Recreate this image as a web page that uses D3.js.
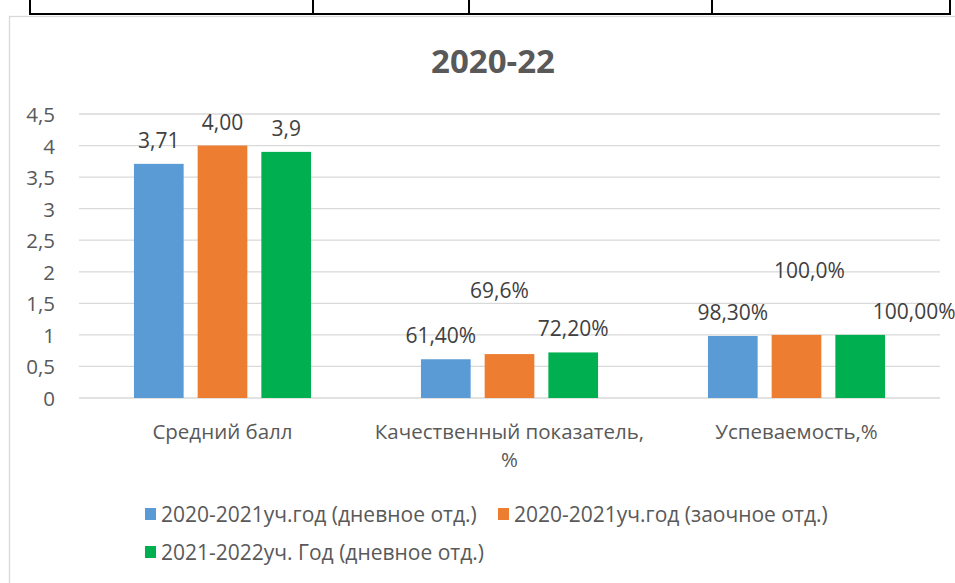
<!DOCTYPE html>
<html lang="ru">
<head>
  <meta charset="UTF-8">
  <title>2020-22</title>
  <script src="https://d3js.org/d3.v7.min.js"></script>
  <style>
    body { margin: 0; background: #fff; }
    text { font-family: "Open Sans", "Noto Sans", sans-serif; }
    .tick-label { font-size: 20.5px; fill: #595959; }
    .value-label { font-size: 21px; fill: #404040; }
    .legend-label { font-size: 21px; fill: #595959; }
    .grid line { stroke: #d9d9d9; stroke-width: 1.3px; }
  </style>
</head>
<body>
  <div id="chart"></div>
  <script>
    // Data
    const categories = ["Средний балл", "Качественный показатель,\n%", "Успеваемость,%"];
    const seriesNames = [
      "2020-2021уч.год (дневное отд.)",
      "2020-2021уч.год (заочное отд.)",
      "2021-2022уч. Год (дневное отд.)"
    ];
    const day2021 = [3.71, 0.614, 0.983];
    const extramural2021 = [4.00, 0.696, 1.0];
    const day2022 = [3.9, 0.722, 1.0];
    const labels2021day = ["3,71", "61,40%", "98,30%"];
    const labels2021ext = ["4,00", "69,6%", "100,0%"];
    const labels2022day = ["3,9", "72,20%", "100,00%"];
    const yTicks = [0, 0.5, 1, 1.5, 2, 2.5, 3, 3.5, 4, 4.5];
    const colors = ["#5b9bd5", "#ed7d31", "#00b050"];

    // hand-moved labels (dx, dy) like in the original document
    const labelNudge = [
      [[0, 0], [-5, 0], [0, 0]],
      [[0, 0], [-10, -40], [13, -41]],
      [[0, 0], [0, 0], [54, 0]]
    ];

    const series = [
      { name: seriesNames[0], values: day2021, labels: labels2021day },
      { name: seriesNames[1], values: extramural2021, labels: labels2021ext },
      { name: seriesNames[2], values: day2022, labels: labels2022day }
    ];

    const W = 955, H = 583;
    const plot = { left: 79, right: 940, top: 114, bottom: 398 };

    const svg = d3.select("#chart")
      .append("svg")
      .attr("width", W)
      .attr("height", H);

    // table row above the chart
    const tableX = [30, 313, 469, 712, 950];
    svg.append("g").selectAll("line")
      .data(tableX)
      .join("line")
      .attr("x1", d => d).attr("x2", d => d)
      .attr("y1", 0).attr("y2", 14)
      .attr("stroke", "#000").attr("stroke-width", 2);
    svg.append("line")
      .attr("x1", tableX[0] - 1).attr("x2", tableX[tableX.length - 1] + 1)
      .attr("y1", 14).attr("y2", 14)
      .attr("stroke", "#000").attr("stroke-width", 2);

    // chart frame
    svg.append("rect")
      .attr("x", 9.5).attr("y", 16.5)
      .attr("width", 960).attr("height", 600)
      .attr("fill", "#fff")
      .attr("stroke", "#d9d9d9").attr("stroke-width", 1.3);

    // title
    svg.append("text")
      .attr("x", 493).attr("y", 60)
      .attr("text-anchor", "middle")
      .attr("dominant-baseline", "central")
      .style("font-size", "33px")
      .style("font-weight", "bold")
      .style("fill", "#595959")
      .text("2020-22");

    const y = d3.scaleLinear()
      .domain([0, 4.5])
      .range([plot.bottom, plot.top]);

    const x0 = d3.scaleBand()
      .domain(categories)
      .range([plot.left, plot.right])
      .paddingInner(0.383)
      .paddingOuter(0.1915);

    const x1 = d3.scaleBand()
      .domain(d3.range(series.length))
      .range([0, x0.bandwidth()])
      .paddingInner(0.22)
      .paddingOuter(0);

    // gridlines
    svg.append("g")
      .attr("class", "grid")
      .selectAll("line")
      .data(yTicks)
      .join("line")
      .attr("x1", plot.left).attr("x2", plot.right)
      .attr("y1", d => y(d)).attr("y2", d => y(d));

    // y tick labels
    const fmt = d => String(d).replace(".", ",");
    svg.append("g")
      .selectAll("text")
      .data(yTicks)
      .join("text")
      .attr("class", "tick-label")
      .attr("x", 55)
      .attr("y", d => y(d))
      .attr("text-anchor", "end")
      .attr("dominant-baseline", "central")
      .text(fmt);

    // bars
    const groups = svg.append("g")
      .selectAll("g")
      .data(series)
      .join("g")
      .attr("fill", (d, i) => colors[i]);

    groups.each(function(s, si) {
      const g = d3.select(this);
      g.selectAll("rect")
        .data(s.values)
        .join("rect")
        .attr("x", (v, ci) => x0(categories[ci]) + x1(si))
        .attr("y", v => y(v))
        .attr("width", x1.bandwidth())
        .attr("height", v => y(0) - y(v));

      g.selectAll("text")
        .data(s.values)
        .join("text")
        .attr("class", "value-label")
        .attr("x", (v, ci) => x0(categories[ci]) + x1(si) + x1.bandwidth() / 2 + labelNudge[si][ci][0])
        .attr("y", (v, ci) => y(v) - 24 + labelNudge[si][ci][1])
        .attr("text-anchor", "middle")
        .attr("dominant-baseline", "central")
        .text((v, ci) => s.labels[ci]);
    });

    // category labels
    svg.append("g")
      .selectAll("text")
      .data(categories)
      .join("text")
      .attr("class", "tick-label")
      .attr("text-anchor", "middle")
      .attr("x", d => x0(d) + x0.bandwidth() / 2)
      .attr("y", 432)
      .each(function(d) {
        const t = d3.select(this);
        d.split("\n").forEach((line, i) => {
          t.append("tspan")
            .attr("x", x0(d) + x0.bandwidth() / 2)
            .attr("dy", i === 0 ? "0.35em" : 28)
            .text(line);
        });
      });

    // legend
    const legendPos = [[145, 514], [498, 514], [145, 552]];
    const legend = svg.append("g")
      .selectAll("g")
      .data(series)
      .join("g")
      .attr("transform", (d, i) => `translate(${legendPos[i][0]},${legendPos[i][1]})`);

    legend.append("rect")
      .attr("x", 0).attr("y", -6)
      .attr("width", 11).attr("height", 12)
      .attr("fill", (d, i) => colors[i]);

    legend.append("text")
      .attr("class", "legend-label")
      .attr("x", 16)
      .attr("y", 0)
      .attr("dominant-baseline", "central")
      .text(d => d.name);
  </script>
</body>
</html>
